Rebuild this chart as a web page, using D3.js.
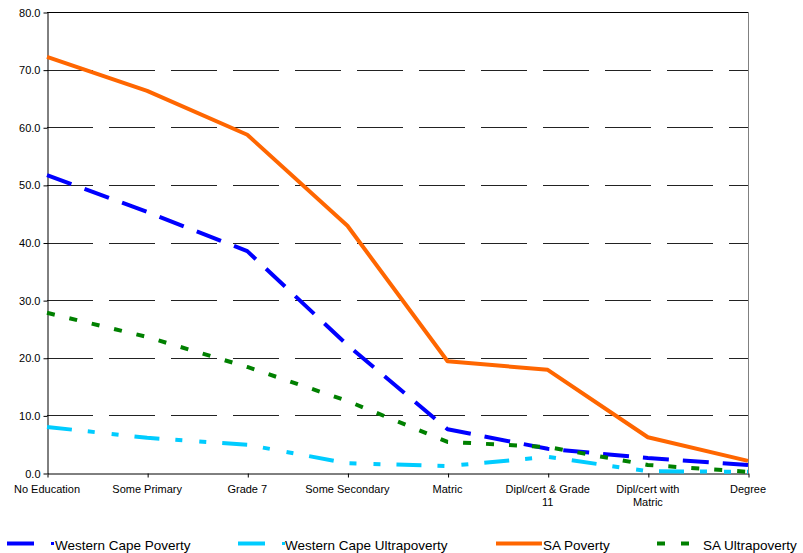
<!DOCTYPE html>
<html><head><meta charset="utf-8">
<script src="https://cdn.jsdelivr.net/npm/d3@7"></script>
<style>body{margin:0;background:#fff}svg{display:block;font-family:"Liberation Sans",Arial,sans-serif}</style>
</head><body><svg id="c" width="803" height="553"></svg>
<script>
const categories = ["No Education","Some Primary","Grade 7","Some Secondary","Matric","Dipl/cert & Grade 11","Dipl/cert with Matric","Degree"];
const wcPoverty = [51.7,45.3,38.5,22.2,7.6,4.2,2.6,1.4];
const wcUltra   = [8.0,6.1,4.9,1.7,1.2,2.8,0.3,0.2];
const saPoverty = [72.2,66.3,58.7,42.9,19.4,17.9,6.2,2.1];
const saUltra   = [27.8,23.6,18.4,12.5,5.4,4.5,1.4,0.2];
const yTicks = [0,10,20,30,40,50,60,70,80];
const seriesNames = ["Western Cape Poverty","Western Cape Ultrapoverty","SA Poverty","SA Ultrapoverty"];

const series = [
  {name:seriesNames[0], values:wcPoverty, color:"#0000FF", dash:"26,14"},
  {name:seriesNames[1], values:wcUltra, color:"#00CCFF", dash:"25,16,7,17,7,16"},
  {name:seriesNames[2], values:saPoverty, color:"#FF6600", dash:null},
  {name:seriesNames[3], values:saUltra, color:"#008000", dash:"8,15"}
];

const svg = d3.select("#c");
const L=47, R=748, T=12, B=473;
const x = d3.scalePoint().domain(categories).range([L,R]).padding(0);
const y = d3.scaleLinear().domain([0,80]).range([B,T]);

// gridlines
svg.append("g").selectAll("line").data(yTicks.filter(v=>v>0&&v<80)).join("line")
  .attr("x1",L).attr("x2",R).attr("y1",d=>Math.round(y(d))+0.5).attr("y2",d=>Math.round(y(d))+0.5)
  .attr("stroke","#222").attr("stroke-width",1).attr("stroke-dasharray","46,16");
// frame top & right
svg.append("line").attr("x1",L).attr("x2",R+0.5).attr("y1",T+0.5).attr("y2",T+0.5).attr("stroke","#000");
svg.append("line").attr("x1",R+0.5).attr("x2",R+0.5).attr("y1",T).attr("y2",B).attr("stroke","#808080");

// axes
const yAxis = d3.axisLeft(y).tickValues(yTicks).tickFormat(d3.format(".1f")).tickSizeInner(4).tickSizeOuter(0).tickPadding(3);
const gy = svg.append("g").attr("transform",`translate(${L+0.5},0.5)`).call(yAxis);
gy.selectAll("text").attr("font-size","11px").attr("fill","#000").attr("font-family","Liberation Sans, Arial, sans-serif");
gy.select(".domain").attr("stroke","#000");

const xAxis = d3.axisBottom(x).tickSizeInner(4).tickSizeOuter(0).tickFormat("");
const gx = svg.append("g").attr("transform",`translate(0.5,${B+0.5})`).call(xAxis);
gx.select(".domain").attr("stroke","#000");

const wrapLines = {"Dipl/cert & Grade 11":["Dipl/cert & Grade","11"],"Dipl/cert with Matric":["Dipl/cert with","Matric"]};
const xl = svg.append("g").attr("font-size","11px").attr("fill","#000").attr("text-anchor","middle");
categories.forEach(c=>{
  const lines = wrapLines[c] || [c];
  const t = xl.append("text").attr("x",x(c)).attr("y",493);
  lines.forEach((ln,i)=>t.append("tspan").attr("x",x(c)).attr("dy",i?13:0).text(ln));
});

// lines
const line = d3.line().x((d,i)=>x(categories[i])).y(d=>y(d));
svg.append("g").selectAll("path").data(series).join("path")
  .attr("d",d=>line(d.values)).attr("fill","none").attr("stroke",d=>d.color)
  .attr("stroke-width",4).attr("stroke-dasharray",d=>d.dash).attr("stroke-linejoin","round");

// legend
const lg = svg.append("g").attr("font-size","13.5px").attr("fill","#000");
const ly = 543.5;
// WC Poverty
lg.append("line").attr("x1",7).attr("x2",34).attr("y1",ly).attr("y2",ly).attr("stroke",series[0].color).attr("stroke-width",4);
lg.append("rect").attr("x",51).attr("y",ly-1.5).attr("width",3).attr("height",3).attr("fill",series[0].color);
lg.append("text").attr("x",55).attr("y",549.5).text(series[0].name);
// WC Ultra
lg.append("line").attr("x1",238).attr("x2",265).attr("y1",ly).attr("y2",ly).attr("stroke",series[1].color).attr("stroke-width",4);
lg.append("rect").attr("x",282).attr("y",ly-1.5).attr("width",3).attr("height",3).attr("fill",series[1].color);
lg.append("text").attr("x",285).attr("y",549.5).text(series[1].name);
// SA Poverty
lg.append("line").attr("x1",496).attr("x2",542).attr("y1",ly).attr("y2",ly).attr("stroke",series[2].color).attr("stroke-width",4);
lg.append("text").attr("x",543).attr("y",549.5).text(series[2].name);
// SA Ultra
lg.append("line").attr("x1",657).attr("x2",690).attr("y1",ly).attr("y2",ly).attr("stroke",series[3].color).attr("stroke-width",4).attr("stroke-dasharray","8,16");
lg.append("text").attr("x",703).attr("y",549.5).text(series[3].name);
</script></body></html>
